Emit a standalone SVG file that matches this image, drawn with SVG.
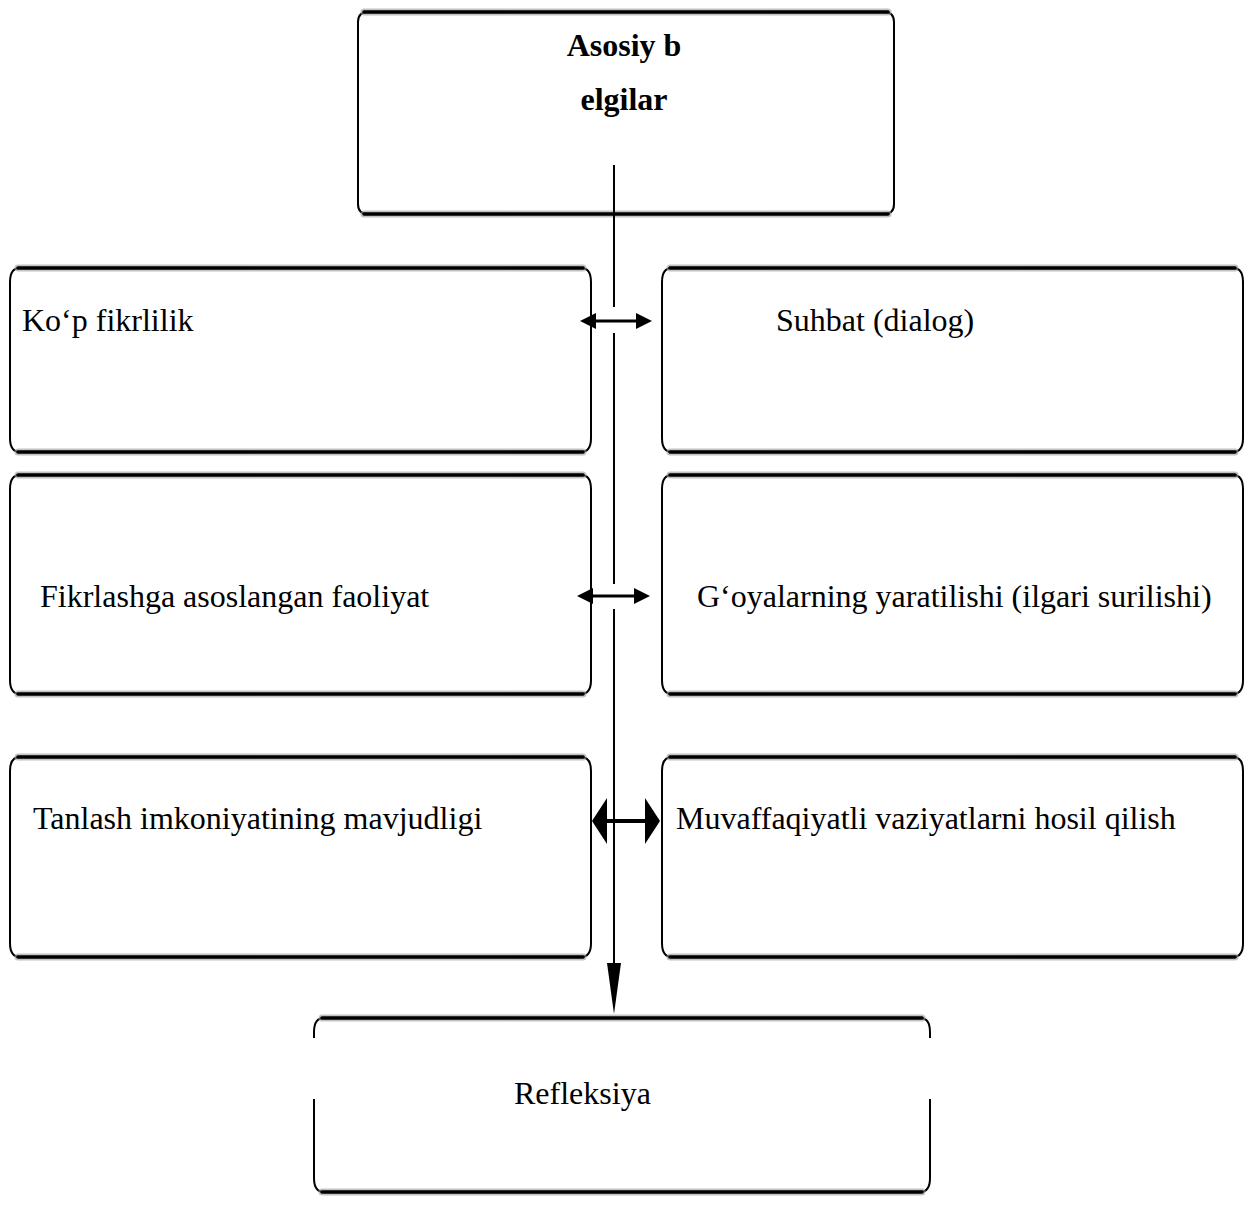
<svg xmlns="http://www.w3.org/2000/svg" width="1253" height="1221" viewBox="0 0 1253 1221">
<style>
  .side { fill: none; stroke: #000; stroke-width: 2; }
  .edge { fill: none; stroke: #000; stroke-width: 3.5; stroke-linecap: round; }
  .halo { fill: none; stroke: #999; stroke-width: 7; stroke-linecap: round; opacity: 0.6; }
  .t { font-family: "Liberation Serif", "Times New Roman", serif; font-size: 32px; fill: #000; }
  .b { font-weight: bold; }
  .ln { stroke: #000; stroke-width: 2; fill: none; }
</style>
<defs>
  <marker id="ah" viewBox="0 0 10 10" refX="10" refY="5" markerWidth="10" markerHeight="10" markerUnits="userSpaceOnUse" orient="auto-start-reverse">
    <path d="M0,0 L10,5 L0,10 z" fill="#000"/>
  </marker>
</defs>
<rect width="1253" height="1221" fill="#fff"/>

<g id="node-top">
  <path class="side" d="M358,22 Q358,12 368,12 M894,22 Q894,12 884,12 M358,22 L358,204 Q358,214 368,214 M894,22 L894,204 Q894,214 884,214"/>
  <line class="halo" x1="364" y1="12" x2="888" y2="12"/><line class="edge" x1="364" y1="12" x2="888" y2="12"/>
  <line class="halo" x1="364" y1="214" x2="888" y2="214"/><line class="edge" x1="364" y1="214" x2="888" y2="214"/>
  <text class="t b" x="624" y="56" text-anchor="middle">Asosiy b</text>
  <text class="t b" x="624" y="110" text-anchor="middle">elgilar</text>
</g>

<g id="node-kop">
  <path class="side" d="M20,268 Q10,268 10,282 L10,438 Q10,452 20,452 M581,268 Q591,268 591,282 L591,438 Q591,452 581,452"/>
  <line class="halo" x1="18" y1="268" x2="583" y2="268"/><line class="edge" x1="18" y1="268" x2="583" y2="268"/>
  <line class="halo" x1="18" y1="452" x2="583" y2="452"/><line class="edge" x1="18" y1="452" x2="583" y2="452"/>
  <text class="t" x="22" y="331">Ko‘p fikrlilik</text>
</g>

<g id="node-suhbat">
  <path class="side" d="M672,268 Q662,268 662,282 L662,438 Q662,452 672,452 M1233,268 Q1243,268 1243,282 L1243,438 Q1243,452 1233,452"/>
  <line class="halo" x1="670" y1="268" x2="1235" y2="268"/><line class="edge" x1="670" y1="268" x2="1235" y2="268"/>
  <line class="halo" x1="670" y1="452" x2="1235" y2="452"/><line class="edge" x1="670" y1="452" x2="1235" y2="452"/>
  <text class="t" x="776" y="331">Suhbat (dialog)</text>
</g>

<g id="node-fikrlash">
  <path class="side" d="M20,475 Q10,475 10,489 L10,680 Q10,694 20,694 M581,475 Q591,475 591,489 L591,680 Q591,694 581,694"/>
  <line class="halo" x1="18" y1="475" x2="583" y2="475"/><line class="edge" x1="18" y1="475" x2="583" y2="475"/>
  <line class="halo" x1="18" y1="694" x2="583" y2="694"/><line class="edge" x1="18" y1="694" x2="583" y2="694"/>
  <text class="t" x="40" y="607">Fikrlashga asoslangan faoliyat</text>
</g>

<g id="node-goya">
  <path class="side" d="M672,475 Q662,475 662,489 L662,680 Q662,694 672,694 M1233,475 Q1243,475 1243,489 L1243,680 Q1243,694 1233,694"/>
  <line class="halo" x1="670" y1="475" x2="1235" y2="475"/><line class="edge" x1="670" y1="475" x2="1235" y2="475"/>
  <line class="halo" x1="670" y1="694" x2="1235" y2="694"/><line class="edge" x1="670" y1="694" x2="1235" y2="694"/>
  <text class="t" x="697" y="607">G‘oyalarning yaratilishi (ilgari surilishi)</text>
</g>

<g id="node-tanlash">
  <path class="side" d="M20,757 Q10,757 10,771 L10,943 Q10,957 20,957 M581,757 Q591,757 591,771 L591,943 Q591,957 581,957"/>
  <line class="halo" x1="18" y1="757" x2="583" y2="757"/><line class="edge" x1="18" y1="757" x2="583" y2="757"/>
  <line class="halo" x1="18" y1="957" x2="583" y2="957"/><line class="edge" x1="18" y1="957" x2="583" y2="957"/>
  <text class="t" x="33" y="829">Tanlash imkoniyatining mavjudligi</text>
</g>

<g id="node-muvaffaqiyat">
  <path class="side" d="M672,757 Q662,757 662,771 L662,943 Q662,957 672,957 M1233,757 Q1243,757 1243,771 L1243,943 Q1243,957 1233,957"/>
  <line class="halo" x1="670" y1="757" x2="1235" y2="757"/><line class="edge" x1="670" y1="757" x2="1235" y2="757"/>
  <line class="halo" x1="670" y1="957" x2="1235" y2="957"/><line class="edge" x1="670" y1="957" x2="1235" y2="957"/>
  <text class="t" x="676" y="829">Muvaffaqiyatli vaziyatlarni hosil qilish</text>
</g>

<g id="node-refleksiya">
  <path class="side" d="M324,1018 Q314,1018 314,1032 L314,1038 M314,1099 L314,1178 Q314,1192 324,1192 M920,1018 Q930,1018 930,1032 L930,1038 M930,1099 L930,1178 Q930,1192 920,1192"/>
  <line class="halo" x1="322" y1="1018" x2="922" y2="1018"/><line class="edge" x1="322" y1="1018" x2="922" y2="1018"/>
  <line class="halo" x1="322" y1="1192" x2="922" y2="1192"/><line class="edge" x1="322" y1="1192" x2="922" y2="1192"/>
  <text class="t" x="514" y="1104">Refleksiya</text>
</g>

<g id="connectors">
  <line class="ln" x1="614" y1="165" x2="614" y2="307"/>
  <line class="ln" x1="614" y1="333" x2="614" y2="584"/>
  <line class="ln" x1="614" y1="609" x2="614" y2="966"/>
  <path d="M607,963 L621,963 L614,1014 z" fill="#000"/>
  <line x1="592" y1="321" x2="640" y2="321" stroke="#000" stroke-width="3"/>
  <path d="M580,321 L596,313 L596,329 z M652,321 L636,313 L636,329 z" fill="#000"/>
  <line x1="590" y1="596" x2="638" y2="596" stroke="#000" stroke-width="3"/>
  <path d="M577,596 L593,588 L593,604 z M650,596 L634,588 L634,604 z" fill="#000"/>
  <line x1="600" y1="821" x2="652" y2="821" stroke="#000" stroke-width="4"/>
  <path d="M592,821 L607,798 L607,844 z M660,821 L645,798 L645,844 z" fill="#000"/>
</g>
</svg>
